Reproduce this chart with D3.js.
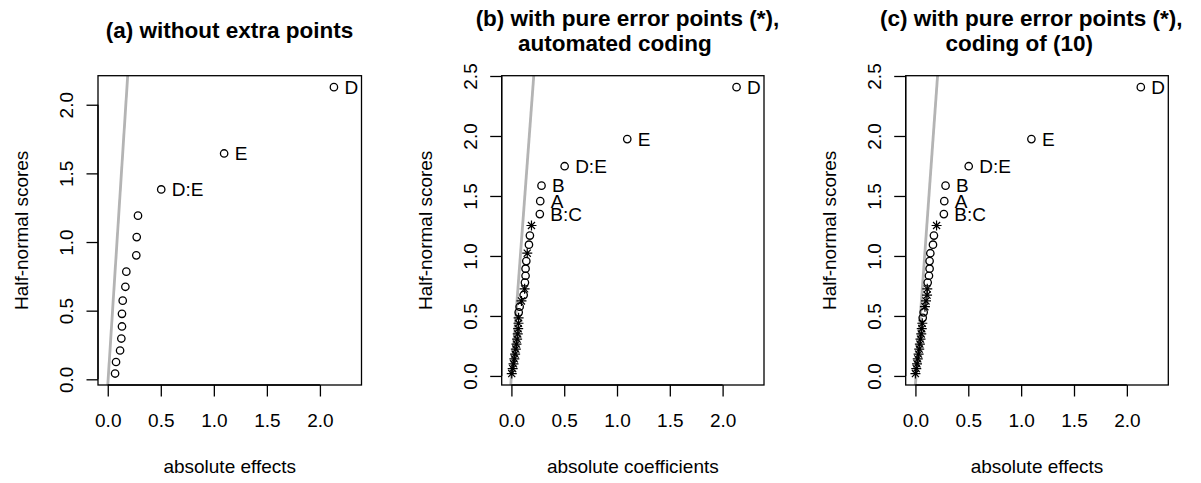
<!DOCTYPE html>
<html><head><meta charset="utf-8">
<script src="https://cdn.jsdelivr.net/npm/d3@7"></script>
<style>
body{margin:0;background:#fff}
svg{display:block}
text{font-family:"Liberation Sans",Arial,Helvetica,sans-serif;fill:#000}
</style>
</head><body>
<svg id="chart" width="1201" height="483"></svg>
<script>
// ---------- data ----------
const xTicks = [0, 0.5, 1, 1.5, 2];
const yTicksA = [0, 0.5, 1, 1.5, 2];
const yTicksBC = [0, 0.5, 1, 1.5, 2, 2.5];
const xLimits = [0, 2.3];

const titlesA = ["(a) without extra points"];
const titlesB = ["(b) with pure error points (*),", "automated coding"];
const titlesC = ["(c) with pure error points (*),", "coding of (10)"];
const xLabels = ["absolute effects", "absolute coefficients", "absolute effects"];
const yLabel = "Half-normal scores";

// panel (a): 15 effects
const scoresA = [0.042,0.126,0.210,0.297,0.385,0.477,0.573,0.674,0.784,0.903,1.036,1.192,1.383,1.645,2.128];
const valuesA = [0.069,0.078,0.116,0.128,0.134,0.134,0.141,0.166,0.175,0.269,0.273,0.285,0.504,1.097,2.132];
const shapesA = ["o","o","o","o","o","o","o","o","o","o","o","o","o","o","o"];
const labelsA = ["","","","","","","","","","","","","D:E","E","D"];

// panels (b), (c): 15 effects + 16 pure error points
const scoresBC = [0.020,0.061,0.101,0.142,0.182,0.224,0.265,0.307,0.350,0.394,0.439,0.484,0.530,0.577,0.625,
                  0.674,0.726,0.779,0.835,0.894,0.957,1.023,1.094,1.170,1.254,1.349,1.457,1.586,1.748,1.974,2.407];
const valuesB = [0.003,0.012,0.020,0.028,0.035,0.042,0.048,0.054,0.060,0.064,0.067,0.068,0.069,0.078,0.095,
                 0.116,0.125,0.128,0.134,0.134,0.141,0.150,0.166,0.175,0.190,0.269,0.273,0.285,0.504,1.097,2.132];
const shapesB = ["*","*","*","*","*","*","*","*","*","*","*","*","o","o","*",
                 "o","*","o","o","o","o","*","o","o","*","o","o","o","o","o","o"];
const valuesC = [0.000,0.008,0.015,0.022,0.030,0.036,0.042,0.048,0.055,0.060,0.065,0.069,0.078,0.090,0.100,
                 0.110,0.112,0.116,0.128,0.134,0.134,0.141,0.166,0.175,0.200,0.269,0.273,0.285,0.504,1.097,2.132];
const shapesC = ["*","*","*","*","*","*","*","*","*","*","*","o","o","*","*",
                 "*","*","o","o","o","o","o","o","o","*","o","o","o","o","o","o"];
const labelsBC = ["","","","","","","","","","","","","","","","","","","","","","","","","",
                  "B:C","A","B","D:E","E","D"];

// reference line (x = intercept + slope * score)
const refSlopes = [0.0834, 0.0846, 0.0813];
const refIntercepts = [0.0035, 0.0, 0.006];

// ---------- layout ----------
const panels = [
  {titles: titlesA, titleX: [229.5], scores: scoresA, values: valuesA, shapes: shapesA, labels: labelsA, yTicks: yTicksA,
   left: 98, right: 361.5},
  {titles: titlesB, titleX: [627.5, 614.8], scores: scoresBC, values: valuesB, shapes: shapesB, labels: labelsBC, yTicks: yTicksBC,
   left: 501.7, right: 764},
  {titles: titlesC, titleX: [1031.3, 1019.2], scores: scoresBC, values: valuesC, shapes: shapesC, labels: labelsBC, yTicks: yTicksBC,
   left: 905.7, right: 1168.3}
];
const plotTop = 75.7, plotBottom = 385;
const fs = 19, titleFs = 22.5;

const svg = d3.select("#chart");
svg.append("rect").attr("width",1201).attr("height",483).attr("fill","#fff");

function expand(lo, hi){ const r = hi - lo; return [lo - 0.04*r, hi + 0.04*r]; }

panels.forEach((p, k) => {
  const x = d3.scaleLinear().domain(expand(xLimits[0], xLimits[1])).range([p.left, p.right]);
  const y = d3.scaleLinear().domain(expand(d3.min(p.scores), d3.max(p.scores))).range([plotBottom, plotTop]);
  const g = svg.append("g");

  const cid = "clip" + k;
  svg.append("clipPath").attr("id", cid).append("rect")
    .attr("x", p.left).attr("y", plotTop).attr("width", p.right - p.left).attr("height", plotBottom - plotTop);

  const yd = y.domain();
  g.append("line")
    .attr("clip-path", `url(#${cid})`)
    .attr("x1", x(refIntercepts[k] + refSlopes[k]*yd[0])).attr("y1", y(yd[0]))
    .attr("x2", x(refIntercepts[k] + refSlopes[k]*yd[1])).attr("y2", y(yd[1]))
    .attr("stroke", "#b4b4b4").attr("stroke-width", 2.8);

  const pts = p.scores.map((s, i) => ({s, v: p.values[i], sh: p.shapes[i], lab: p.labels[i]}));
  const circ = pts.filter(d => d.sh === "o");
  const star = pts.filter(d => d.sh === "*");
  g.selectAll("circle.pt").data(circ).enter().append("circle")
    .attr("cx", d => x(d.v)).attr("cy", d => y(d.s)).attr("r", 3.7)
    .attr("fill", "none").attr("stroke", "#000").attr("stroke-width", 1.3);
  const a = 5.0, dd = a / Math.SQRT2;
  g.selectAll("path.star").data(star).enter().append("path")
    .attr("d", d => {
      const cx = x(d.v), cy = y(d.s);
      return `M${cx-a},${cy}H${cx+a}M${cx},${cy-a}V${cy+a}` +
             `M${cx-dd},${cy-dd}L${cx+dd},${cy+dd}M${cx-dd},${cy+dd}L${cx+dd},${cy-dd}`;
    })
    .attr("stroke", "#000").attr("stroke-width", 1.2).attr("fill", "none");

  g.selectAll("text.lab").data(pts.filter(d => d.lab)).enter().append("text")
    .attr("x", d => x(d.v) + 10.5).attr("y", d => y(d.s) + 6.8)
    .attr("font-size", fs).text(d => d.lab);

  g.append("rect").attr("x", p.left).attr("y", plotTop)
    .attr("width", p.right - p.left).attr("height", plotBottom - plotTop)
    .attr("fill", "none").attr("stroke", "#000").attr("stroke-width", 1.3);

  const xa = g.append("g").attr("transform", `translate(0,${plotBottom})`)
    .call(d3.axisBottom(x).tickValues(xTicks).tickFormat(d3.format(".1f")).tickSize(11.5).tickPadding(0).tickSizeOuter(0));
  xa.attr("font-size", null).attr("font-family", null);
  xa.select(".domain").attr("d", `M${x(xTicks[0])},0H${x(xTicks[xTicks.length-1])}`).attr("stroke-width", 1.3);
  xa.selectAll(".tick line").attr("stroke-width", 1.3);
  xa.selectAll(".tick text").attr("font-size", fs).attr("dy", null).attr("y", 41.5);

  const ya = g.append("g").attr("transform", `translate(${p.left},0)`)
    .call(d3.axisLeft(y).tickValues(p.yTicks).tickFormat(d3.format(".1f")).tickSize(11.5).tickSizeOuter(0));
  ya.attr("font-size", null).attr("font-family", null);
  ya.select(".domain").attr("d", `M0,${y(p.yTicks[0])}V${y(p.yTicks[p.yTicks.length-1])}`).attr("stroke-width", 1.3);
  ya.selectAll(".tick line").attr("stroke-width", 1.3);
  ya.selectAll(".tick text").attr("font-size", fs).attr("x", null).attr("dy", null)
    .attr("text-anchor", "middle")
    .attr("transform", "translate(-25,0) rotate(-90)");

  g.append("text").attr("x", (p.left + p.right)/2).attr("y", 473)
    .attr("text-anchor", "middle").attr("font-size", fs).text(xLabels[k]);
  g.append("text").attr("transform", `translate(${p.left - 70},${(plotTop+plotBottom)/2}) rotate(-90)`)
    .attr("text-anchor", "middle").attr("font-size", fs).text(yLabel);

  const baseY = p.titles.length === 1 ? [37.5] : [26, 50.5];
  p.titles.forEach((t, j) => {
    g.append("text").attr("x", p.titleX[j]).attr("y", baseY[j])
      .attr("text-anchor", "middle").attr("font-size", titleFs).attr("font-weight", "bold").text(t);
  });
});
</script>
</body></html>
